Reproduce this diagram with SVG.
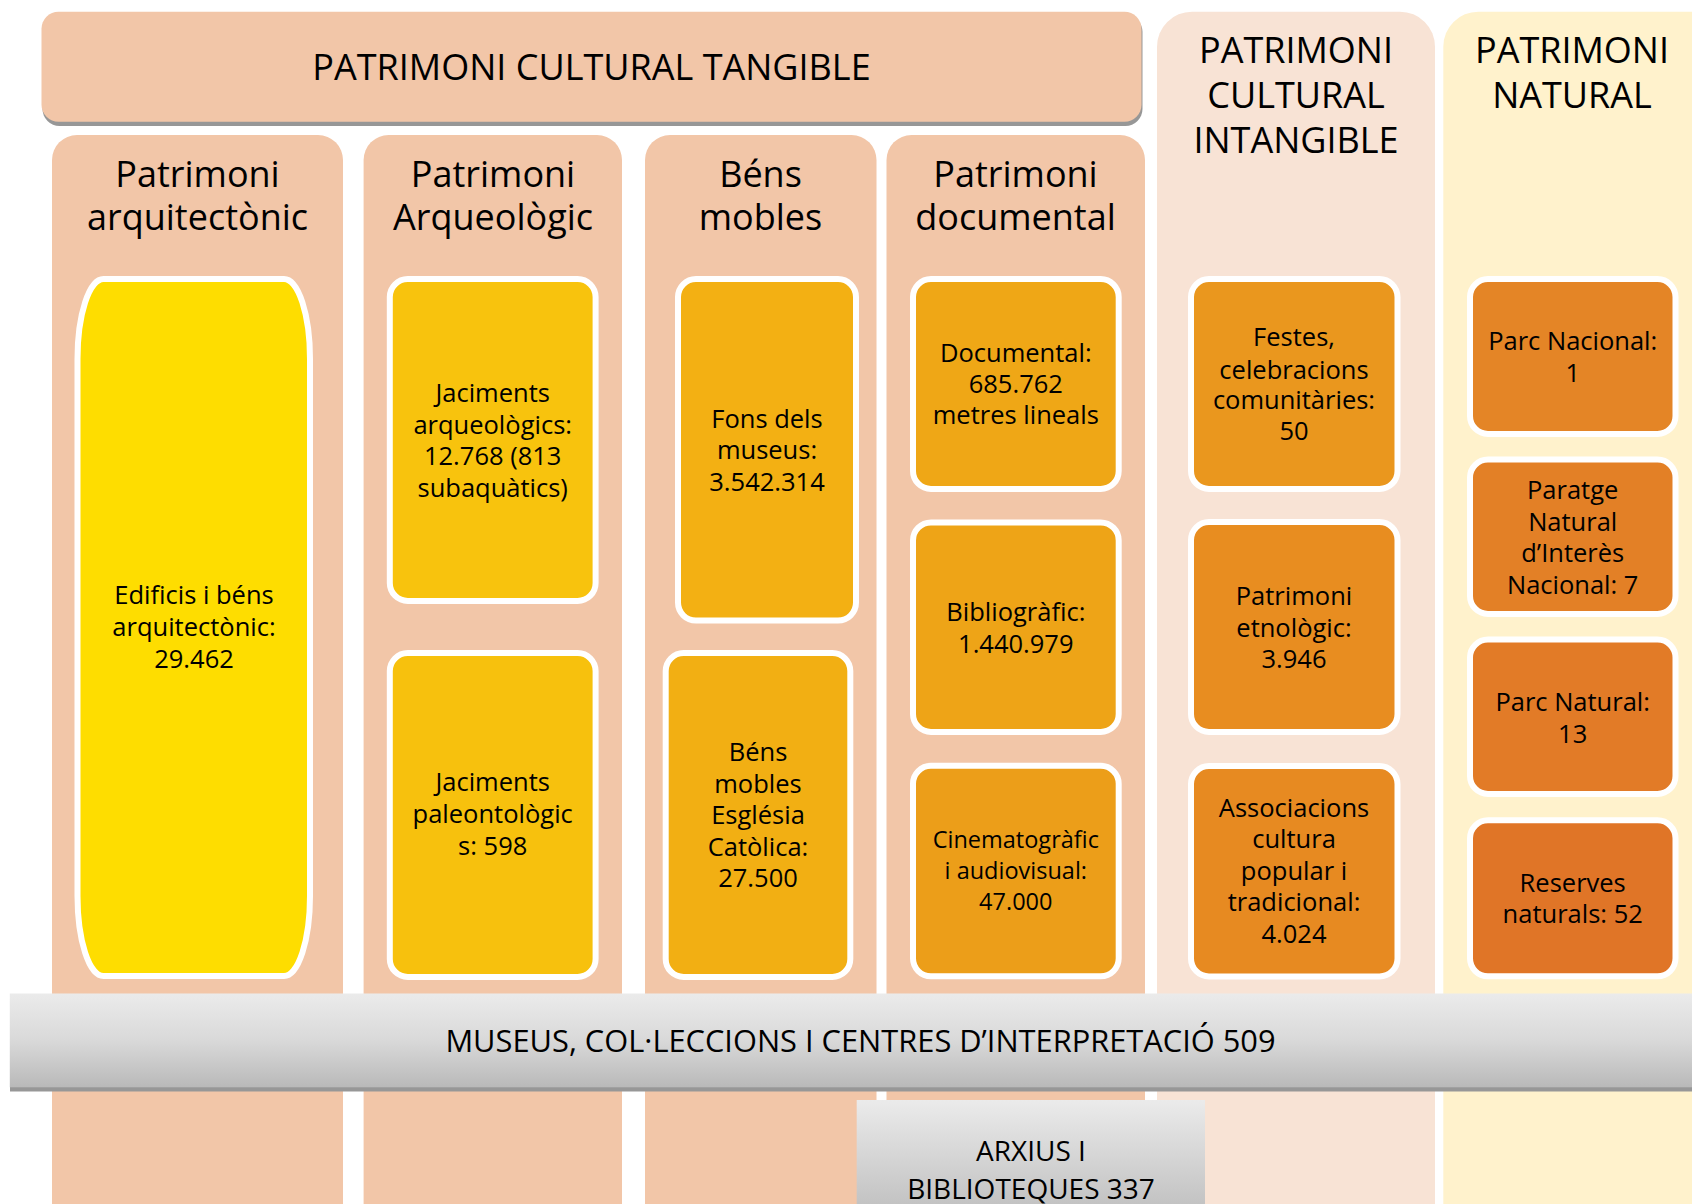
<svg xmlns="http://www.w3.org/2000/svg" width="1692" height="1204" viewBox="0 0 1692 1204">
<defs>
<linearGradient id="gBand" x1="0" y1="0" x2="0" y2="1">
<stop offset="0" stop-color="#EBEBEB"/>
<stop offset="0.5" stop-color="#D9D9D9"/>
<stop offset="1" stop-color="#B9B9B9"/>
</linearGradient>
<linearGradient id="gBox" x1="0" y1="0" x2="0" y2="1">
<stop offset="0" stop-color="#EBEBEB"/>
<stop offset="1" stop-color="#BDBDBD"/>
</linearGradient>
</defs>
<style>
text{font-family:"Open Sans","Liberation Sans",sans-serif;fill:#000;text-anchor:middle}
.hd{font-size:36px}
.t{font-size:25.5px}
.ts{font-size:23.5px}
.band{font-size:30.8px}
.arx{font-size:28px}
.col{fill:#F2C6A8}
.box{stroke:#FFFFFF;stroke-width:6}
.shadow{fill:#979797}
</style>
<rect x="0" y="0" width="1692" height="1204" fill="#FFFFFF"/>

<g id="col-intangible">
<rect x="1157" y="11.7" width="278" height="1300" rx="35" fill="#F8E3D5"/>
<text class="hd"><tspan x="1296" y="63.3">PATRIMONI</tspan><tspan x="1296" y="108.3">CULTURAL</tspan><tspan x="1296" y="152.7">INTANGIBLE</tspan></text>
</g>
<g id="col-natural">
<rect x="1443.3" y="11.7" width="300" height="1300" rx="35" fill="#FFF2CC"/>
<text class="hd"><tspan x="1572" y="63.3">PATRIMONI</tspan><tspan x="1572" y="108.3">NATURAL</tspan></text>
</g>

<g id="banner-tangible">
<rect class="shadow" x="42.5" y="15" width="1100" height="111" rx="17"/>
<rect x="41.5" y="11.7" width="1100" height="110" rx="17" fill="#F2C6A8"/>
<text class="hd" x="591.5" y="80">PATRIMONI CULTURAL TANGIBLE</text>
</g>

<g id="col-arquitectonic">
<rect class="col" x="52" y="135" width="291" height="1200" rx="25"/>
<text class="hd"><tspan x="197.5" y="186.7">Patrimoni</tspan><tspan x="197.5" y="230">arquitectònic</tspan></text>
</g>
<g id="col-arqueologic">
<rect class="col" x="363.6" y="135" width="258.4" height="1200" rx="25"/>
<text class="hd"><tspan x="493" y="186.7">Patrimoni</tspan><tspan x="493" y="230">Arqueològic</tspan></text>
</g>
<g id="col-bens-mobles">
<rect class="col" x="645" y="135" width="231.5" height="1200" rx="25"/>
<text class="hd"><tspan x="760.5" y="186.7">Béns</tspan><tspan x="760.5" y="230">mobles</tspan></text>
</g>
<g id="col-documental">
<rect class="col" x="886.5" y="135" width="258.5" height="1200" rx="25"/>
<text class="hd"><tspan x="1015.5" y="186.7">Patrimoni</tspan><tspan x="1015.5" y="230">documental</tspan></text>
</g>

<g id="n-edificis">
<rect class="box" x="77.5" y="279" width="232.5" height="697" rx="26" ry="80" fill="#FEDD00"/>
<text class="t"><tspan x="194" y="604">Edificis i béns</tspan><tspan x="194" y="636">arquitectònic:</tspan><tspan x="194" y="668">29.462</tspan></text>
</g>

<g id="n-jaciments-arq">
<rect class="box" x="389.8" y="279" width="205.8" height="322" rx="18" fill="#F8C30D"/>
<text class="t"><tspan x="492.7" y="402">Jaciments</tspan><tspan x="492.7" y="433.5">arqueològics:</tspan><tspan x="492.7" y="465">12.768 (813</tspan><tspan x="492.7" y="496.5">subaquàtics)</tspan></text>
</g>
<g id="n-jaciments-pal">
<rect class="box" x="389.8" y="653" width="205.8" height="324" rx="18" fill="#F7C10D"/>
<text class="t"><tspan x="492.7" y="791">Jaciments</tspan><tspan x="492.7" y="822.5">paleontològic</tspan><tspan x="492.7" y="854.5">s: 598</tspan></text>
</g>

<g id="n-fons-museus">
<rect class="box" x="678" y="279" width="178" height="341.6" rx="18" fill="#F3B013"/>
<text class="t"><tspan x="767" y="427.6">Fons dels</tspan><tspan x="767" y="458.8">museus:</tspan><tspan x="767" y="490.5">3.542.314</tspan></text>
</g>
<g id="n-bens-esglesia">
<rect class="box" x="665.7" y="653" width="184.6" height="324" rx="18" fill="#F2AF13"/>
<text class="t"><tspan x="758" y="760.5">Béns</tspan><tspan x="758" y="792.5">mobles</tspan><tspan x="758" y="824">Església</tspan><tspan x="758" y="855.5">Catòlica:</tspan><tspan x="758" y="887">27.500</tspan></text>
</g>

<g id="n-documental">
<rect class="box" x="913" y="279" width="205.7" height="210" rx="18" fill="#EFA716"/>
<text class="t"><tspan x="1015.8" y="362">Documental:</tspan><tspan x="1015.8" y="393">685.762</tspan><tspan x="1015.8" y="424.4">metres lineals</tspan></text>
</g>
<g id="n-bibliografic">
<rect class="box" x="913" y="522.4" width="205.7" height="209.6" rx="18" fill="#EEA417"/>
<text class="t"><tspan x="1015.8" y="621">Bibliogràfic:</tspan><tspan x="1015.8" y="652.6">1.440.979</tspan></text>
</g>
<g id="n-cinematografic">
<rect class="box" x="913" y="765.8" width="205.7" height="210.5" rx="18" fill="#EC9E19"/>
<text class="ts"><tspan x="1015.8" y="848">Cinematogràfic</tspan><tspan x="1015.8" y="879.3">i audiovisual:</tspan><tspan x="1015.8" y="910">47.000</tspan></text>
</g>

<g id="n-festes">
<rect class="box" x="1191" y="279" width="206.5" height="210" rx="18" fill="#EA971E"/>
<text class="t"><tspan x="1294" y="346.3">Festes,</tspan><tspan x="1294" y="378.5">celebracions</tspan><tspan x="1294" y="409.2">comunitàries:</tspan><tspan x="1294" y="440.4">50</tspan></text>
</g>
<g id="n-etnologic">
<rect class="box" x="1191" y="522" width="206.5" height="210" rx="18" fill="#E88D20"/>
<text class="t"><tspan x="1294" y="605.3">Patrimoni</tspan><tspan x="1294" y="636.5">etnològic:</tspan><tspan x="1294" y="667.7">3.946</tspan></text>
</g>
<g id="n-associacions">
<rect class="box" x="1191" y="766" width="206.5" height="210.5" rx="18" fill="#E78A21"/>
<text class="t"><tspan x="1294" y="817">Associacions</tspan><tspan x="1294" y="847.7">cultura</tspan><tspan x="1294" y="879.8">popular i</tspan><tspan x="1294" y="911">tradicional:</tspan><tspan x="1294" y="942.7">4.024</tspan></text>
</g>

<g id="n-parc-nacional">
<rect class="box" x="1470" y="279" width="205.5" height="155" rx="18" fill="#E48526"/>
<text class="t"><tspan x="1572.7" y="350.4">Parc Nacional:</tspan><tspan x="1572.7" y="381.7">1</tspan></text>
</g>
<g id="n-paratge">
<rect class="box" x="1470" y="459.5" width="205.5" height="154.5" rx="18" fill="#E38026"/>
<text class="t"><tspan x="1572.7" y="498.8">Paratge</tspan><tspan x="1572.7" y="530.9">Natural</tspan><tspan x="1572.7" y="562">d’Interès</tspan><tspan x="1572.7" y="593.8">Nacional: 7</tspan></text>
</g>
<g id="n-parc-natural">
<rect class="box" x="1470" y="639.5" width="205.5" height="154.5" rx="18" fill="#E27B27"/>
<text class="t"><tspan x="1572.7" y="711.3">Parc Natural:</tspan><tspan x="1572.7" y="743">13</tspan></text>
</g>
<g id="n-reserves">
<rect class="box" x="1470" y="820.3" width="205.5" height="156" rx="18" fill="#E07527"/>
<text class="t"><tspan x="1572.7" y="891.7">Reserves</tspan><tspan x="1572.7" y="922.7">naturals: 52</tspan></text>
</g>

<g id="band-museus">
<rect class="shadow" x="10" y="1087" width="1682" height="4.5"/>
<rect x="9.8" y="993.5" width="1683" height="93.8" fill="url(#gBand)"/>
<text class="band" x="860.5" y="1052">MUSEUS, COL·LECCIONS I CENTRES D’INTERPRETACIÓ 509</text>
</g>

<g id="box-arxius">
<rect x="856.7" y="1100" width="348.3" height="120" fill="url(#gBox)"/>
<text class="arx"><tspan x="1031" y="1161">ARXIUS I</tspan><tspan x="1031" y="1199">BIBLIOTEQUES 337</tspan></text>
</g>
</svg>
